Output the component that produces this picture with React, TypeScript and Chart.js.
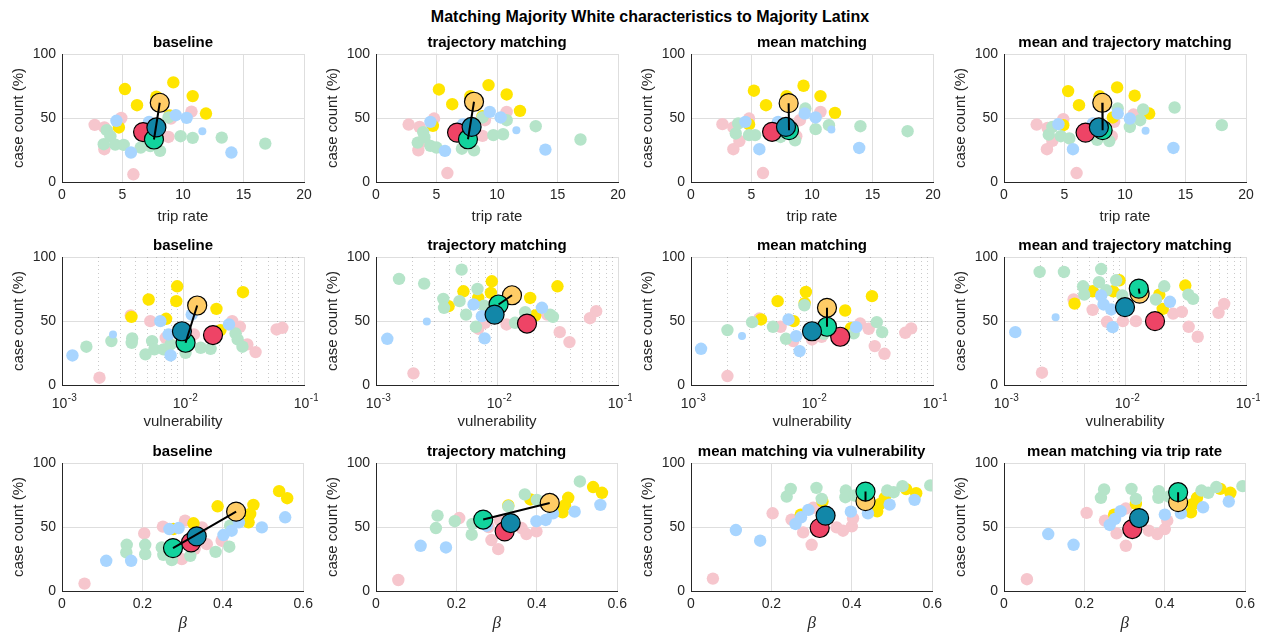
import { useEffect, useRef } from "react";
import { Chart, registerables } from "chart.js";
Chart.register(...registerables);

type P = [number, number];

// ---------- Row 1: trip rate ----------
const tripBaseY: P[] = [[5.2,72.6],[9.2,77.8],[10.8,67.1],[6.2,60],[11.9,53.5],[4.7,42.6],[7.8,66.6],[8.9,52]];
const tripBaseP: P[] = [[2.7,44.6],[3.5,42.6],[4.9,50],[4.7,48],[10.7,55],[9.0,49.6],[8.8,35.2],[3.5,25.6],[5.9,6]];
const tripBaseG: P[] = [[3.45,29.5],[3.7,40.5],[4.0,35.8],[4.4,29.2],[5.1,29],[6.5,26.9],[7.3,28],[8.1,24.3],[9.8,35.8],[10.8,34.5],[13.2,34.7],[16.8,30],[8.8,50.4]];
const tripBaseB: P[] = [[11.6,39.7],[4.5,47.8],[5.7,23],[7.2,47],[9.4,52.2],[10.3,50.1],[14.0,23]];
const tripBaseM: P[] = [[8.08,61.9],[6.7,39],[7.6,33.2],[7.8,42.6]];

const tripTrajY: P[] = [[5.2,72.3],[9.3,75.7],[10.8,68.4],[6.3,60.8],[11.9,55.6],[4.7,43.9],[7.8,67],[8.8,51.4]];
const tripTrajP: P[] = [[2.7,44.9],[3.6,43],[4.8,49.6],[10.8,54.8],[9.0,48.3],[8.8,36],[3.5,24.8],[5.9,7],[4.0,32]];
const tripTrajG: P[] = [[3.45,30.8],[3.9,39],[4.0,35],[4.5,28.2],[5.0,26.9],[7.1,26],[8.1,24.8],[9.7,36.6],[10.5,37.3],[13.2,43.6],[16.9,33.2],[8.8,50.4],[10.8,48.3]];
const tripTrajB: P[] = [[11.6,40.5],[4.5,47],[5.7,24.3],[7.2,45.2],[9.4,54.8],[10.3,50.4],[14.0,25.3]];
const tripTrajM: P[] = [[8.1,62.7],[6.7,38.6],[7.6,33.4],[7.9,43]];

const tripMeanY: P[] = [[5.2,71.3],[9.3,75.2],[10.7,67.1],[6.2,60],[11.9,54],[4.8,45],[7.9,67]];
const tripMeanP: P[] = [[2.6,45.2],[3.5,42.6],[4.8,49.6],[10.7,54.8],[9.0,48.3],[8.7,35.8],[3.5,25.6],[5.95,7],[4.0,32]];
const tripMeanG: P[] = [[3.7,37.9],[3.9,45.7],[4.8,36.6],[5.3,36.6],[8.6,32.6],[10.3,41.3],[11.4,44.4],[14.0,43.6],[17.9,39.7],[9.45,57.4],[7.4,35.2]];
const tripMeanB: P[] = [[11.6,41],[4.5,47],[5.65,25.6],[7.2,47],[9.4,53.5],[10.3,50.4],[13.9,26.6]];
const tripMeanM: P[] = [[8.07,61.6],[6.7,39.2],[8.1,40.5],[7.85,43]];

const tripMTY: P[] = [[5.3,71],[9.35,73.9],[10.8,67.4],[6.2,60],[12.0,53.5],[4.9,44.4],[7.9,67],[9.0,50.4]];
const tripMTP: P[] = [[2.7,44.9],[3.6,42.3],[4.9,49.1],[10.7,52.7],[9.1,47],[8.9,35.8],[3.55,25.6],[6.0,7],[4.0,32.1]];
const tripMTG: P[] = [[3.7,37],[4.0,43],[4.7,35.8],[5.4,34],[7.7,33],[8.7,32],[10.4,43],[11.25,48.3],[11.5,56.7],[14.1,58.2],[18.0,44.4],[9.4,57.4]];
const tripMTB: P[] = [[11.7,40],[4.5,45.2],[5.7,25.6],[7.35,45.7],[9.4,53.5],[10.4,49.6],[14.0,26.6]];
const tripMTM: P[] = [[8.12,61.9],[6.74,38.6],[8.15,40.5],[7.84,42.6]];

// ---------- Row 2: vulnerability ----------
const vulBaseY: P[] = [[5.2e-3,66.8],[8.95e-3,77.1],[8.8e-3,65.5],[3.75e-3,53.2],[0.0189,59.5],[0.0313,72.5],[0.0204,42.9],[7.25e-3,51.7]];
const vulBaseP: P[] = [[3.7e-3,54.3],[5.37e-3,49.9],[0.0255,49.9],[0.0295,45.5],[0.034,31.7],[0.0398,25.7],[0.0594,43.4],[0.0662,44.7],[2.04e-3,5.7],[0.0123,39.5],[7.2e-3,36.9]];
const vulBaseG: P[] = [[1.59e-3,29.9],[2.56e-3,34.3],[3.8e-3,36.4],[3.77e-3,33],[4.9e-3,23.9],[5.55e-3,34.3],[5.8e-3,27.8],[6.9e-3,27.8],[7.9e-3,31.7],[0.0105,25.2],[0.014,29.1],[0.0169,28.3],[0.0272,40.3],[0.0283,35.6],[0.031,29.9]];
const vulBaseB: P[] = [[2.64e-3,39.5],[1.22e-3,23.1],[6.5e-3,49.9],[7.6e-3,39.5],[7.9e-3,23.1],[0.024,47.3],[0.0118,55]];
const vulBaseM: P[] = [[0.0131,62.1],[0.0177,39],[0.0105,33],[9.8e-3,42]];

const vulTrajY: P[] = [[5.28e-3,73.2],[9.06e-3,81],[8.9e-3,72],[3.98e-3,61.6],[0.0188,68],[0.0316,77.1],[0.0207,54.3],[7e-3,68]];
const vulTrajP: P[] = [[2.04e-3,9.1],[0.033,41.3],[0.0397,33.5],[0.0587,52.2],[0.066,57.7],[7.95e-3,48.6],[0.012,47.3],[7e-3,44],[0.026,55]];
const vulTrajG: P[] = [[1.55e-3,82.9],[2.5e-3,79.2],[3.6e-3,67.3],[3.65e-3,60.3],[4.9e-3,65.5],[5.1e-3,90.1],[5.55e-3,55],[6.9e-3,75],[6.7e-3,45.5],[0.0141,48.6],[0.0171,56.9],[0.0275,55],[0.029,53.2],[7.8e-3,62]];
const vulTrajB: P[] = [[2.63e-3,49.6],[1.24e-3,36.1],[6.4e-3,62.9],[7.5e-3,53.8],[7.9e-3,36.4],[0.0235,60.3]];
const vulTrajM: P[] = [[0.0133,70.1],[0.0177,48],[0.0103,62.9],[9.55e-3,55]];

const vulMeanY: P[] = [[5.2e-3,65.5],[8.9e-3,72.7],[8.7e-3,64],[3.79e-3,51.2],[0.0188,58.2],[0.0313,69.4],[0.021,44.4],[7.05e-3,49.9]];
const vulMeanP: P[] = [[2.0e-3,7],[3.67e-3,51.9],[5.5e-3,45.5],[0.01,35.6],[0.012,37.7],[0.025,48],[0.0294,43.9],[0.033,30.4],[0.0397,24.4],[0.059,40.8],[0.066,44.2],[7e-3,34.3]];
const vulMeanG: P[] = [[2e-3,42.9],[3.2e-3,49.1],[4.76e-3,45.5],[6.1e-3,36.1],[8.65e-3,62.3],[0.0221,40.3],[0.0343,49.1],[0.038,41.3],[0.0125,40]];
const vulMeanB: P[] = [[2.64e-3,38.2],[1.21e-3,28.3],[6.4e-3,51.2],[7.4e-3,38.2],[7.9e-3,26.5],[0.0232,45.2]];
const vulMeanM: P[] = [[0.0133,60.3],[0.0171,37.7],[0.0133,45.5],[0.01,42]];

const vulMTY: P[] = [[3.83e-3,63.6],[5.4e-3,73.2],[9e-3,81.8],[8e-3,73.2],[0.0192,70.6],[0.0315,77.7],[0.0205,59.5]];
const vulMTP: P[] = [[2.06e-3,9.6],[3.76e-3,66.8],[5.4e-3,58.7],[7.1e-3,49.4],[9.6e-3,49.9],[0.0123,49.9],[0.025,55.8],[0.0295,57.1],[0.0336,45.5],[0.0399,37.7],[0.0593,56.4],[0.066,63.4]];
const vulMTG: P[] = [[1.97e-3,88.3],[3.13e-3,88.3],[4.5e-3,77.1],[4.6e-3,70.6],[6.1e-3,80.3],[6.35e-3,90.6],[7e-3,74],[8.45e-3,81.8],[0.018,66.8],[0.0211,77.1],[0.0334,70.6],[0.0365,67.3],[9.5e-3,70]];
const vulMTB: P[] = [[2.67e-3,53],[1.24e-3,41.3],[6.35e-3,69.9],[6.65e-3,62.9],[7.7e-3,59],[7.9e-3,45.2],[0.0235,65]];
const vulMTM: P[] = [[0.0132,71.4],[0.0177,49.9],[0.013,75.3],[0.01,60.8]];

// ---------- Row 3: beta ----------
const betaBaseY: P[] = [[0.54,78],[0.56,72.5],[0.476,67.3],[0.387,66.2],[0.464,53.7],[0.327,52.9],[0.468,60.2],[0.277,48.4]];
const betaBaseP: P[] = [[0.2045,45],[0.251,50.3],[0.306,55],[0.348,49.7],[0.36,36.6],[0.397,39.3],[0.298,24.9],[0.056,5.8],[0.33,33]];
const betaBaseG: P[] = [[0.161,36.1],[0.16,30.1],[0.207,36.1],[0.207,28.8],[0.248,34],[0.252,28.3],[0.273,24.1],[0.319,27.5],[0.382,30.6],[0.416,34.6],[0.418,51]];
const betaBaseB: P[] = [[0.11,23.6],[0.172,23.6],[0.267,48.4],[0.29,49.2],[0.4015,43.7],[0.422,47.1],[0.44,53.7],[0.497,49.7],[0.555,57.6]];
const betaBaseM: P[] = [[0.433,62],[0.321,38],[0.276,33.5],[0.335,42.7]];

const betaTrajY: P[] = [[0.54,81.2],[0.562,76.7],[0.478,72.8],[0.384,71.5],[0.464,61.5],[0.329,66.8],[0.47,67]];
const betaTrajP: P[] = [[0.0555,8.6],[0.207,57],[0.304,32.7],[0.287,39.8],[0.362,49.2],[0.374,44.5],[0.399,46.6],[0.308,55],[0.28,50]];
const betaTrajG: P[] = [[0.507,85.6],[0.37,75.4],[0.4,71.2],[0.153,58.9],[0.149,49.2],[0.196,54.5],[0.24,52.4],[0.238,44],[0.329,66.2]];
const betaTrajB: P[] = [[0.111,35.3],[0.174,34],[0.275,51],[0.399,54.5],[0.422,55.5],[0.44,60.7],[0.494,62],[0.558,67.3]];
const betaTrajM: P[] = [[0.432,68.8],[0.32,46.6],[0.2666,55.8],[0.335,53.1]];

const betaVulY: P[] = [[0.535,79.6],[0.56,76.4],[0.482,72.8],[0.463,62.3],[0.327,69.9],[0.273,59.7],[0.47,68]];
const betaVulP: P[] = [[0.0545,9.7],[0.203,60.7],[0.25,55.8],[0.279,45.8],[0.3,36.1],[0.304,65],[0.362,49.7],[0.378,47.1],[0.4,50.5],[0.403,56.8]];
const betaVulG: P[] = [[0.238,73.8],[0.248,79.8],[0.312,80.6],[0.325,72],[0.385,78.5],[0.384,73.3],[0.407,74.6],[0.488,78.5],[0.504,77.2],[0.526,81.9],[0.595,82.5]];
const betaVulB: P[] = [[0.1116,47.6],[0.172,39.3],[0.26,52.4],[0.2736,57.6],[0.292,63.4],[0.3975,62],[0.44,60.7],[0.494,67.5],[0.556,71.2]];
const betaVulM: P[] = [[0.434,70.2],[0.32,49.2],[0.434,77.7],[0.3347,58.9]];

const betaTripY: P[] = [[0.538,79.8],[0.563,76.7],[0.48,72.8],[0.465,61.5],[0.328,68],[0.274,59.7],[0.47,68]];
const betaTripP: P[] = [[0.057,9.2],[0.2055,61],[0.251,55],[0.28,45],[0.303,35.3],[0.303,64.4],[0.36,47.1],[0.381,44.5],[0.4,48.4],[0.406,55]];
const betaTripG: P[] = [[0.241,72.8],[0.249,79.3],[0.317,79.8],[0.328,72],[0.385,78],[0.384,72.8],[0.41,73.8],[0.491,78.5],[0.508,76.7],[0.528,81.2],[0.593,81.9]];
const betaTripB: P[] = [[0.11,44.5],[0.173,36.1],[0.263,51.6],[0.276,56.3],[0.29,62.3],[0.4,59.7],[0.44,60.7],[0.495,65.4],[0.559,69.9]];
const betaTripM: P[] = [[0.433,69.4],[0.319,48.4],[0.433,77.2],[0.336,57]];

// ---------- labels / ticks ----------
const mainTitle = "Matching Majority White characteristics to Majority Latinx";
const rowTitles = [
  ["baseline", "trajectory matching", "mean matching", "mean and trajectory matching"],
  ["baseline", "trajectory matching", "mean matching", "mean and trajectory matching"],
  ["baseline", "trajectory matching", "mean matching via vulnerability", "mean matching via trip rate"],
];
const xLabels = ["trip rate", "vulnerability", "\u03B2"];
const yLabel = "case count (%)";
const yTicks = [0, 50, 100];
const tripTicks = [0, 5, 10, 15, 20];
const vulTicks = [1e-3, 1e-2, 1e-1];
const betaTicks = [0, 0.2, 0.4, 0.6];

const panelData: P[][][] = [
  [tripBaseY, tripBaseP, tripBaseG, tripBaseB, tripBaseM],
  [tripTrajY, tripTrajP, tripTrajG, tripTrajB, tripTrajM],
  [tripMeanY, tripMeanP, tripMeanG, tripMeanB, tripMeanM],
  [tripMTY, tripMTP, tripMTG, tripMTB, tripMTM],
  [vulBaseY, vulBaseP, vulBaseG, vulBaseB, vulBaseM],
  [vulTrajY, vulTrajP, vulTrajG, vulTrajB, vulTrajM],
  [vulMeanY, vulMeanP, vulMeanG, vulMeanB, vulMeanM],
  [vulMTY, vulMTP, vulMTG, vulMTB, vulMTM],
  [betaBaseY, betaBaseP, betaBaseG, betaBaseB, betaBaseM],
  [betaTrajY, betaTrajP, betaTrajG, betaTrajB, betaTrajM],
  [betaVulY, betaVulP, betaVulG, betaVulB, betaVulM],
  [betaTripY, betaTripP, betaTripG, betaTripB, betaTripM],
];

// ---------- styling / layout ----------
const FONT = '"Liberation Sans", Arial, Helvetica, sans-serif';
const INK = "#262626";
const GRID = "#DEDEDE";
const C_Y = "#FFE500", C_P = "#F6C6CD", C_G = "#B5E4C9", C_B = "#A8D5FF";
const M_COLORS = ["#FFCC66", "#EE4466", "#12D39D", "#1287A8"];
const COL_LEFT = [62, 376, 691, 1004];
const ROW_TOP = [54, 257, 463];
const PLOT_W = 242, PLOT_H = 128;
const TOP_SPACE = 32, LEFT_SPACE = 62, RIGHT_SPACE = 14;
const BOTTOM_SPACE = [46, 46, 43];
const XTITLE_PAD = [2, 0, 0];

const toXY = (a: P[]) => a.map(([x, y]) => ({ x, y }));

const logAxisPlugin = {
  id: "logAxisDecor",
  beforeDatasetsDraw(chart: any) {
    const xs = chart.scales.x;
    if (xs.type !== "logarithmic") return;
    const { top, bottom } = chart.chartArea;
    const ctx = chart.ctx;
    ctx.save();
    ctx.strokeStyle = "rgba(80,80,80,0.3)";
    ctx.lineWidth = 1;
    ctx.setLineDash([1, 3]);
    for (let d = 0; d < vulTicks.length - 1; d++) {
      for (let k = 2; k <= 9; k++) {
        const px = Math.round(xs.getPixelForValue(vulTicks[d] * k)) + 0.5;
        ctx.beginPath();
        ctx.moveTo(px, top);
        ctx.lineTo(px, bottom);
        ctx.stroke();
      }
    }
    ctx.restore();
  },
  afterDraw(chart: any) {
    const xs = chart.scales.x;
    if (xs.type !== "logarithmic") return;
    const ctx = chart.ctx;
    const base = chart.chartArea.bottom;
    ctx.save();
    ctx.fillStyle = INK;
    ctx.textBaseline = "middle";
    ctx.textAlign = "left";
    for (const v of vulTicks) {
      const exp = String(Math.round(Math.log10(v)));
      ctx.font = `14px ${FONT}`;
      const w1 = ctx.measureText("10").width;
      ctx.font = `10px ${FONT}`;
      const w2 = ctx.measureText(exp).width;
      const px = xs.getPixelForValue(v);
      const x0 = px - (w1 + w2) / 2 + 2;
      ctx.font = `14px ${FONT}`;
      ctx.fillText("10", x0, base + 19);
      ctx.font = `10px ${FONT}`;
      ctx.fillText(exp, x0 + w1 + 0.5, base + 13);
    }
    ctx.restore();
  },
};

function Panel({ idx }: { idx: number }) {
  const ref = useRef<HTMLCanvasElement>(null);
  const row = Math.floor(idx / 4), col = idx % 4;
  const W = LEFT_SPACE + PLOT_W + RIGHT_SPACE;
  const H = TOP_SPACE + PLOT_H + BOTTOM_SPACE[row];
  const left = COL_LEFT[col] - LEFT_SPACE;
  const top = ROW_TOP[row] - TOP_SPACE;

  useEffect(() => {
    const [Ys, Ps, Gs, Bs, Ms] = panelData[idx];
    const tickFont = { family: FONT, size: 14 };
    let xScale: any;
    if (row === 1) {
      xScale = {
        type: "logarithmic",
        min: vulTicks[0],
        max: vulTicks[vulTicks.length - 1],
        afterBuildTicks: (s: any) => { s.ticks = vulTicks.map((v) => ({ value: v })); },
        ticks: { display: false },
      };
    } else {
      const tk = row === 0 ? tripTicks : betaTicks;
      xScale = {
        type: "linear",
        min: tk[0],
        max: tk[tk.length - 1],
        afterBuildTicks: (s: any) => { s.ticks = tk.map((v) => ({ value: v })); },
        ticks: {
          font: tickFont, color: INK, padding: 5, maxRotation: 0, autoSkip: false,
          callback: (v: any) => String(Number(Number(v).toFixed(1))),
        },
      };
    }
    xScale.grid = { color: GRID, drawTicks: false, lineWidth: 1 };
    xScale.border = { color: INK, width: 1 };
    xScale.afterFit = (s: any) => { s.height = BOTTOM_SPACE[row]; };
    xScale.title = {
      display: true,
      text: xLabels[row],
      color: INK,
      font: row === 2
        ? { family: '"Liberation Serif", "DejaVu Serif", serif', style: "italic", size: 17 }
        : { family: FONT, size: 15 },
      padding: { top: 0, bottom: XTITLE_PAD[row] },
    };

    const chart = new Chart(ref.current!, {
      type: "scatter",
      data: {
        datasets: [
          {
            data: toXY([Ms[0], Ms[2]]),
            showLine: true,
            borderColor: "#000",
            borderWidth: 2,
            pointRadius: 0,
            fill: false,
          } as any,
          {
            data: toXY(Ms),
            backgroundColor: M_COLORS,
            borderColor: "#000",
            borderWidth: 1.2,
            pointRadius: 9.5,
          },
          {
            data: toXY(Bs),
            backgroundColor: C_B,
            borderWidth: 0,
            pointRadius: (c: any) => (row < 2 && c.dataIndex === 0 ? 4 : 6.2),
          },
          { data: toXY(Gs), backgroundColor: C_G, borderWidth: 0, pointRadius: 6.2 },
          { data: toXY(Ys), backgroundColor: C_Y, borderWidth: 0, pointRadius: 6.2 },
          { data: toXY(Ps), backgroundColor: C_P, borderWidth: 0, pointRadius: 6.2 },
        ],
      },
      options: {
        animation: false,
        responsive: false,
        maintainAspectRatio: false,
        events: [],
        layout: { padding: { left: 0, right: RIGHT_SPACE, top: 0, bottom: 0 } },
        plugins: {
          legend: { display: false },
          tooltip: { enabled: false },
          title: {
            display: true,
            text: rowTitles[row][col],
            color: "#000",
            font: { family: FONT, size: 15, weight: "bold" },
            padding: { top: 12, bottom: 2 },
            fullSize: false,
          },
        },
        scales: {
          x: xScale,
          y: {
            type: "linear",
            min: 0,
            max: 100,
            afterBuildTicks: (s: any) => { s.ticks = yTicks.map((v) => ({ value: v })); },
            afterFit: (s: any) => { s.width = LEFT_SPACE; },
            grid: { color: GRID, drawTicks: false, lineWidth: 1 },
            border: { color: INK, width: 1 },
            ticks: { font: tickFont, color: INK, padding: 6 },
            title: {
              display: true,
              text: yLabel,
              color: INK,
              font: { family: FONT, size: 15 },
              padding: { top: 10, bottom: 0 },
            },
          },
        },
      } as any,
      plugins: [logAxisPlugin],
    });
    return () => chart.destroy();
  }, []);

  return (
    <canvas
      ref={ref}
      width={W}
      height={H}
      style={{ position: "absolute", left, top, width: W, height: H }}
    />
  );
}

export default function App() {
  return (
    <div
      style={{
        position: "fixed",
        left: 0,
        top: 0,
        width: 1270,
        height: 634,
        overflow: "hidden",
        background: "#fff",
      }}
    >
      <div
        style={{
          position: "absolute",
          left: 0,
          width: 1300,
          top: 7,
          textAlign: "center",
          font: `bold 16px ${FONT}`,
          color: "#000",
          lineHeight: "20px",
        }}
      >
        {mainTitle}
      </div>
      {panelData.map((_, i) => (
        <Panel key={i} idx={i} />
      ))}
    </div>
  );
}
